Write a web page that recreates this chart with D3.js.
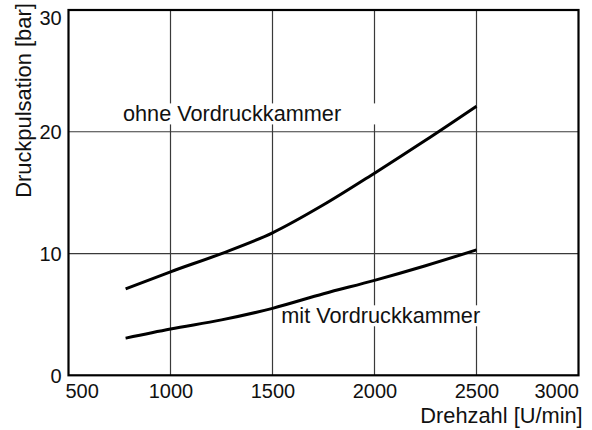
<!DOCTYPE html>
<html>
<head>
<meta charset="utf-8">
<script src="https://cdn.jsdelivr.net/npm/d3@7/dist/d3.min.js"></script>
<style>
  html, body { margin: 0; padding: 0; background: #fff; }
  svg { display: block; }
  text { font-family: "Liberation Sans", Arial, Helvetica, sans-serif; fill: #111; }
</style>
</head>
<body>
<svg id="chart" width="592" height="430"></svg>
<script>
// Drehzahl (rpm) at which each curve is sampled
const drehzahl = [780, 1000, 1250, 1500, 1750, 2000, 2250, 2500];
// Druckpulsation [bar] without and with pre-pressure chamber
const ohneVordruckkammer = [7.1, 8.5, 10.0, 11.7, 14.0, 16.6, 19.3, 22.1];
const mitVordruckkammer  = [3.05, 3.8, 4.55, 5.5, 6.7, 7.8, 9.0, 10.3];

const xTicks = [500, 1000, 1500, 2000, 2500, 3000];
const yTicks = [0, 10, 20, 30];
const xGrid = [1000, 1500, 2000, 2500];
const yGrid = [10, 20];

const curveLabels = ["ohne Vordruckkammer", "mit Vordruckkammer"];

const svg = d3.select("#chart");
const plot = { left: 68.5, right: 578.5, top: 10, bottom: 375.3 };

const x = d3.scaleLinear().domain([500, 3000]).range([plot.left, plot.right]);
const y = d3.scaleLinear().domain([0, 30]).range([plot.bottom, plot.top]);

// grid
const grid = svg.append("g").attr("stroke", "#3a3a3a").attr("stroke-width", 1.2);
grid.selectAll("line.v").data(xGrid).join("line")
  .attr("x1", d => x(d)).attr("x2", d => x(d))
  .attr("y1", plot.top).attr("y2", plot.bottom);
grid.selectAll("line.h").data(yGrid).join("line")
  .attr("x1", plot.left).attr("x2", plot.right)
  .attr("y1", d => y(d)).attr("y2", d => y(d));

// curve labels sit on white plates that interrupt the grid
const labelSpec = [
  { text: curveLabels[0], rpm: 767, val: 20.85, padL: 4, padR: 38 },
  { text: curveLabels[1], rpm: 1543, val: 4.27, padL: 3, padR: 4 }
];
const plates = svg.append("g");
const labelG = svg.append("g");

// curves
const line = d3.line()
  .x((d, i) => x(drehzahl[i]))
  .y(d => y(d))
  .curve(d3.curveMonotoneX);

svg.append("g").selectAll("path").data([ohneVordruckkammer, mitVordruckkammer]).join("path")
  .attr("d", d => line(d))
  .attr("fill", "none")
  .attr("stroke", "#000")
  .attr("stroke-width", 3);

labelSpec.forEach(s => {
  const t = labelG.append("text")
    .attr("x", x(s.rpm)).attr("y", y(s.val))
    .attr("font-size", 21.7)
    .text(s.text);
  const b = t.node().getBBox();
  plates.append("rect")
    .attr("x", b.x - s.padL).attr("y", b.y + 2)
    .attr("width", b.width + s.padL + s.padR).attr("height", b.height - 4)
    .attr("fill", "#fff");
});

// frame
svg.append("rect")
  .attr("x", plot.left).attr("y", plot.top)
  .attr("width", plot.right - plot.left).attr("height", plot.bottom - plot.top)
  .attr("fill", "none").attr("stroke", "#000").attr("stroke-width", 2.2);

// x axis labels
const xAxis = svg.append("g")
  .attr("transform", `translate(0,${plot.bottom})`)
  .call(d3.axisBottom(x).tickValues(xTicks).tickSize(0).tickPadding(9).tickFormat(d3.format("d")));
xAxis.select(".domain").remove();
xAxis.selectAll("text")
  .attr("font-size", 20)
  .attr("fill", "#111")
  .attr("font-family", "Liberation Sans, Arial, sans-serif")
  .attr("dy", "0.71em")
  .attr("text-anchor", d => d === 500 ? "start" : d === 3000 ? "end" : "middle")
  .attr("x", d => d === 500 ? -3.5 : 0);

// y axis labels
const yAxis = svg.append("g")
  .attr("transform", `translate(${plot.left},0)`)
  .call(d3.axisLeft(y).tickValues(yTicks).tickSize(0).tickPadding(6.8));
yAxis.select(".domain").remove();
yAxis.selectAll("text")
  .attr("font-size", 20)
  .attr("fill", "#111")
  .attr("font-family", "Liberation Sans, Arial, sans-serif")
  .attr("dy", d => d === 30 ? "0.71em" : "0.34em")
  .attr("y", 0);

// axis titles
svg.append("text")
  .attr("x", 582.7).attr("y", 423)
  .attr("text-anchor", "end")
  .attr("font-size", 21.8)
  .text("Drehzahl [U/min]");

svg.append("text")
  .attr("transform", "translate(30.7,100.5) rotate(-90)")
  .attr("text-anchor", "middle")
  .attr("font-size", 21.9)
  .text("Druckpulsation [bar]");
</script>
</body>
</html>
